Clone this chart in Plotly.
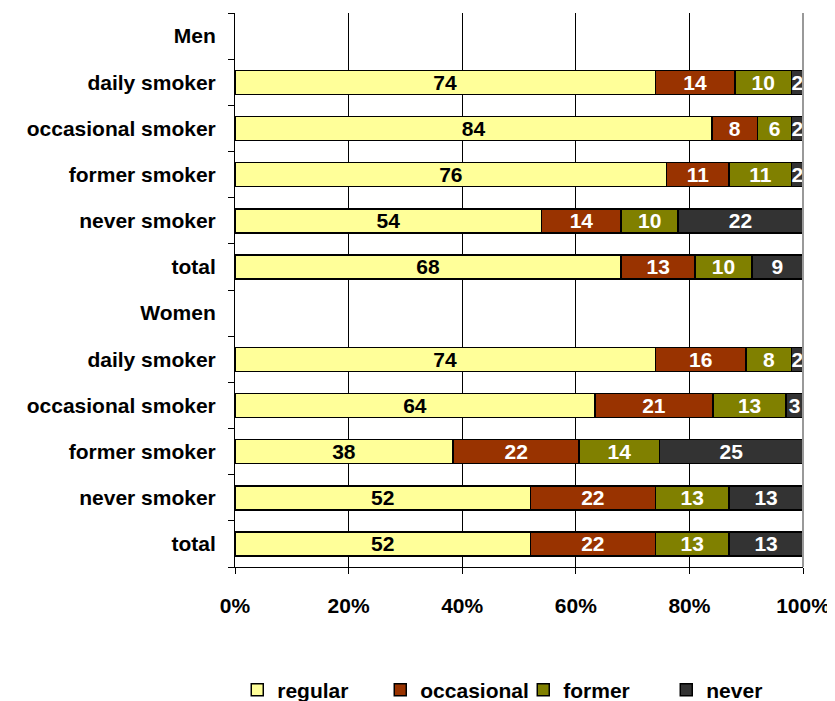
import plotly.graph_objects as go

rows = ["Men", "daily smoker", "occasional smoker", "former smoker", "never smoker", "total",
        "Women", "daily smoker", "occasional smoker", "former smoker", "never smoker", "total"]
regular = [None, 74, 84, 76, 54, 68, None, 74, 64, 38, 52, 52]
occasional = [None, 14, 8, 11, 14, 13, None, 16, 21, 22, 22, 22]
former = [None, 10, 6, 11, 10, 10, None, 8, 13, 14, 13, 13]
never = [None, 2, 2, 2, 22, 9, None, 2, 3, 25, 13, 13]
x_ticks = [0, 20, 40, 60, 80, 100]

series = [
    ("regular", regular, "#FFFF99", "black"),
    ("occasional", occasional, "#993300", "white"),
    ("former", former, "#808000", "white"),
    ("never", never, "#333333", "white"),
]

FONT = "Liberation Sans, Arial, sans-serif"
FS = 21
pos = list(range(len(rows)))

fig = go.Figure()
for name, vals, color, tcolor in series:
    fig.add_trace(go.Bar(
        name=name, y=pos, x=vals, orientation="h",
        marker=dict(color=color, line=dict(color="black", width=1.5)),
        text=["" if v is None else str(v) for v in vals],
        textposition="inside", insidetextanchor="middle", textangle=0,
        textfont=dict(color=tcolor, size=FS, family=FONT, weight="bold"),
        cliponaxis=False,
        hoverinfo="skip",
    ))

# page body has an 8px default margin, so the figure is sized to fit the window
fig.update_layout(
    barmode="stack", barnorm="percent", bargap=0.48,
    width=827, height=693,
    margin=dict(l=227, r=32, t=5, b=134, autoexpand=False),
    paper_bgcolor="white", plot_bgcolor="white",
    font=dict(family=FONT, size=FS, color="black", weight="bold"),
    uniformtext=dict(mode="show", minsize=FS),
    showlegend=True,
    legend=dict(orientation="h", x=0.004, y=-0.222, xanchor="left", yanchor="middle",
                entrywidth=98,
                font=dict(size=FS, family=FONT, weight="bold"),
                traceorder="normal"),
    xaxis=dict(range=[0, 100], tickvals=x_ticks, ticktext=[f"{t}%" for t in x_ticks],
               showgrid=True, gridcolor="black", gridwidth=1,
               showline=True, linecolor="black", linewidth=1,
               ticks="outside", ticklen=6, tickcolor="black",
               ticklabelstandoff=14, zeroline=False, automargin=False,
               tickfont=dict(size=FS, family=FONT, weight="bold")),
    yaxis=dict(range=[11.5, -0.5], tickvals=pos, ticktext=rows,
               showgrid=False, showline=True, linecolor="black", linewidth=1,
               ticks="", ticklabelstandoff=14, zeroline=False, automargin=False,
               minor=dict(tickmode="array", tickvals=[p - 0.5 for p in pos] + [11.5],
                          ticks="outside", ticklen=6, tickcolor="black", showgrid=False),
               tickfont=dict(size=FS, family=FONT, weight="bold")),
)
fig.add_shape(type="line", xref="paper", yref="paper", x0=1, x1=1, y0=0, y1=1,
              line=dict(color="#999999", width=2))

fig.write_html("out.html")
